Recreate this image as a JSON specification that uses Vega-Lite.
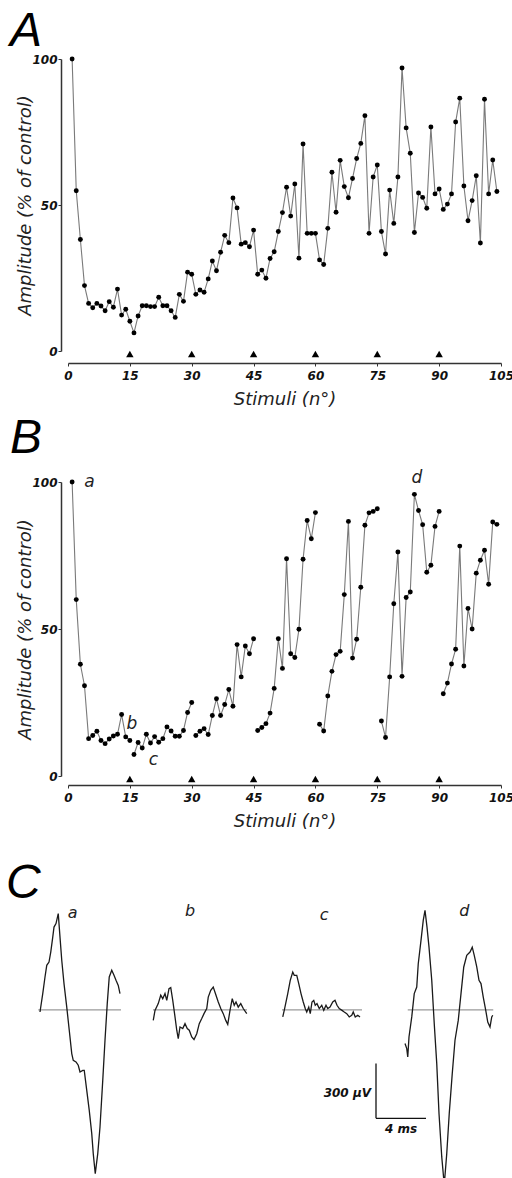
{
  "$schema": "https://vega.github.io/schema/vega-lite/v6.json",
  "background": "white",
  "padding": {"left": 6, "top": 8, "right": 5, "bottom": 0},
  "spacing": 131,
  "bounds": "flush",
  "config": {
    "view": {"stroke": null},
    "font": "DejaVu Sans",
    "axis": {"grid": false, "labelFlush": false}
  },
  "datasets": {
    "A": [
      {"s":1,"amp":100},{"s":2,"amp":54.9},{"s":3,"amp":38.2},{"s":4,"amp":22.4},{"s":5,"amp":16.3},{"s":6,"amp":14.8},{"s":7,"amp":16.3},{"s":8,"amp":15.4},{"s":9,"amp":13.8},{"s":10,"amp":16.9},{"s":11,"amp":15.0},{"s":12,"amp":21.2},{"s":13,"amp":12.3},{"s":14,"amp":14.3},{"s":15,"amp":10.2},
      {"s":16,"amp":6.2},{"s":17,"amp":12.0},{"s":18,"amp":15.5},{"s":19,"amp":15.5},{"s":20,"amp":15.2},{"s":21,"amp":15.2},{"s":22,"amp":18.4},{"s":23,"amp":15.5},{"s":24,"amp":15.5},{"s":25,"amp":13.8},{"s":26,"amp":11.5},{"s":27,"amp":19.4},{"s":28,"amp":17.0},{"s":29,"amp":27.0},{"s":30,"amp":26.3},
      {"s":31,"amp":19.4},{"s":32,"amp":20.9},{"s":33,"amp":20.1},{"s":34,"amp":24.7},{"s":35,"amp":30.8},{"s":36,"amp":27.5},{"s":37,"amp":33.8},{"s":38,"amp":39.6},{"s":39,"amp":37.1},{"s":40,"amp":52.4},{"s":41,"amp":49.0},{"s":42,"amp":36.6},{"s":43,"amp":37.1},{"s":44,"amp":35.7},{"s":45,"amp":41.4},
      {"s":46,"amp":26.3},{"s":47,"amp":27.7},{"s":48,"amp":24.9},{"s":49,"amp":31.7},{"s":50,"amp":34.0},{"s":51,"amp":40.9},{"s":52,"amp":47.4},{"s":53,"amp":56.1},{"s":54,"amp":46.2},{"s":55,"amp":57.2},{"s":56,"amp":31.8},{"s":57,"amp":70.9},{"s":58,"amp":40.3},{"s":59,"amp":40.3},{"s":60,"amp":40.3},
      {"s":61,"amp":31.2},{"s":62,"amp":29.6},{"s":63,"amp":42.0},{"s":64,"amp":61.2},{"s":65,"amp":47.5},{"s":66,"amp":65.3},{"s":67,"amp":56.3},{"s":68,"amp":52.5},{"s":69,"amp":59.1},{"s":70,"amp":65.9},{"s":71,"amp":71.1},{"s":72,"amp":80.6},{"s":73,"amp":40.3},{"s":74,"amp":59.6},{"s":75,"amp":63.7},
      {"s":76,"amp":40.9},{"s":77,"amp":33.2},{"s":78,"amp":55.1},{"s":79,"amp":43.7},{"s":80,"amp":59.6},{"s":81,"amp":96.9},{"s":82,"amp":76.4},{"s":83,"amp":67.7},{"s":84,"amp":40.6},{"s":85,"amp":54.1},{"s":86,"amp":52.6},{"s":87,"amp":48.9},{"s":88,"amp":76.7},{"s":89,"amp":53.8},{"s":90,"amp":55.5},
      {"s":91,"amp":48.5},{"s":92,"amp":50.3},{"s":93,"amp":53.8},{"s":94,"amp":78.4},{"s":95,"amp":86.6},{"s":96,"amp":56.5},{"s":97,"amp":44.6},{"s":98,"amp":51.5},{"s":99,"amp":60.0},{"s":100,"amp":37.0},{"s":101,"amp":86.2},{"s":102,"amp":53.8},{"s":103,"amp":65.4},{"s":104,"amp":54.6}
    ],
    "B": [
      {"s":1,"amp":100,"block":1},{"s":2,"amp":60.0,"block":1},{"s":3,"amp":38.0,"block":1},{"s":4,"amp":30.7,"block":1},{"s":5,"amp":12.7,"block":1},{"s":6,"amp":13.8,"block":1},{"s":7,"amp":15.2,"block":1},{"s":8,"amp":12.1,"block":1},{"s":9,"amp":11.0,"block":1},{"s":10,"amp":12.6,"block":1},{"s":11,"amp":13.6,"block":1},{"s":12,"amp":14.2,"block":1},{"s":13,"amp":20.9,"block":1},{"s":14,"amp":13.3,"block":1},{"s":15,"amp":12.1,"block":1},
      {"s":16,"amp":7.3,"block":2},{"s":17,"amp":11.4,"block":2},{"s":18,"amp":9.5,"block":2},{"s":19,"amp":14.2,"block":2},{"s":20,"amp":11.2,"block":2},{"s":21,"amp":13.4,"block":2},{"s":22,"amp":11.5,"block":2},{"s":23,"amp":12.7,"block":2},{"s":24,"amp":16.7,"block":2},{"s":25,"amp":15.3,"block":2},{"s":26,"amp":13.5,"block":2},{"s":27,"amp":13.5,"block":2},{"s":28,"amp":15.5,"block":2},{"s":29,"amp":21.6,"block":2},{"s":30,"amp":25.0,"block":2},
      {"s":31,"amp":13.8,"block":3},{"s":32,"amp":15.2,"block":3},{"s":33,"amp":16.1,"block":3},{"s":34,"amp":14.1,"block":3},{"s":35,"amp":20.6,"block":3},{"s":36,"amp":26.3,"block":3},{"s":37,"amp":20.6,"block":3},{"s":38,"amp":24.3,"block":3},{"s":39,"amp":29.4,"block":3},{"s":40,"amp":23.7,"block":3},{"s":41,"amp":44.7,"block":3},{"s":42,"amp":33.7,"block":3},{"s":43,"amp":44.2,"block":3},{"s":44,"amp":41.6,"block":3},{"s":45,"amp":46.7,"block":3},
      {"s":46,"amp":15.5,"block":4},{"s":47,"amp":16.5,"block":4},{"s":48,"amp":17.8,"block":4},{"s":49,"amp":21.4,"block":4},{"s":50,"amp":29.8,"block":4},{"s":51,"amp":46.7,"block":4},{"s":52,"amp":36.6,"block":4},{"s":53,"amp":73.9,"block":4},{"s":54,"amp":41.6,"block":4},{"s":55,"amp":40.3,"block":4},{"s":56,"amp":49.9,"block":4},{"s":57,"amp":73.7,"block":4},{"s":58,"amp":86.9,"block":4},{"s":59,"amp":80.7,"block":4},{"s":60,"amp":89.6,"block":4},
      {"s":61,"amp":17.6,"block":5},{"s":62,"amp":15.3,"block":5},{"s":63,"amp":27.2,"block":5},{"s":64,"amp":35.6,"block":5},{"s":65,"amp":41.3,"block":5},{"s":66,"amp":42.4,"block":5},{"s":67,"amp":61.7,"block":5},{"s":68,"amp":86.6,"block":5},{"s":69,"amp":40.1,"block":5},{"s":70,"amp":46.5,"block":5},{"s":71,"amp":64.2,"block":5},{"s":72,"amp":85.3,"block":5},{"s":73,"amp":89.5,"block":5},{"s":74,"amp":90.0,"block":5},{"s":75,"amp":90.9,"block":5},
      {"s":76,"amp":18.7,"block":6},{"s":77,"amp":13.1,"block":6},{"s":78,"amp":33.7,"block":6},{"s":79,"amp":58.6,"block":6},{"s":80,"amp":76.2,"block":6},{"s":81,"amp":33.9,"block":6},{"s":82,"amp":60.7,"block":6},{"s":83,"amp":62.6,"block":6},{"s":84,"amp":95.8,"block":6},{"s":85,"amp":90.3,"block":6},{"s":86,"amp":85.5,"block":6},{"s":87,"amp":69.3,"block":6},{"s":88,"amp":71.7,"block":6},{"s":89,"amp":84.9,"block":6},{"s":90,"amp":90.0,"block":6},
      {"s":91,"amp":28.0,"block":7},{"s":92,"amp":31.6,"block":7},{"s":93,"amp":38.1,"block":7},{"s":94,"amp":43.1,"block":7},{"s":95,"amp":78.2,"block":7},{"s":96,"amp":37.4,"block":7},{"s":97,"amp":57.0,"block":7},{"s":98,"amp":50.0,"block":7},{"s":99,"amp":69.0,"block":7},{"s":100,"amp":73.4,"block":7},{"s":101,"amp":76.8,"block":7},{"s":102,"amp":65.2,"block":7},{"s":103,"amp":86.4,"block":7},{"s":104,"amp":85.6,"block":7}
    ],
    "tri": [{"s":15},{"s":30},{"s":45},{"s":60},{"s":75},{"s":90}],
    "Blabels": [
      {"s":5.2,"amp":100,"label":"a"},{"s":15.5,"amp":17.8,"label":"b"},{"s":20.7,"amp":5.6,"label":"c"},{"s":84.6,"amp":101.5,"label":"d"}
    ],
    "traces": [
      {"trace":"a","t":0.32,"v":-12},{"trace":"a","t":0.54,"v":89},{"trace":"a","t":0.72,"v":180},{"trace":"a","t":0.86,"v":244},{"trace":"a","t":1.04,"v":262},{"trace":"a","t":1.18,"v":317},{"trace":"a","t":1.34,"v":399},{"trace":"a","t":1.44,"v":454},{"trace":"a","t":1.6,"v":473},{"trace":"a","t":1.78,"v":528},{"trace":"a","t":1.92,"v":399},{"trace":"a","t":2.06,"v":272},{"trace":"a","t":2.24,"v":144},{"trace":"a","t":2.46,"v":15},{"trace":"a","t":2.66,"v":-112},{"trace":"a","t":2.86,"v":-240},{"trace":"a","t":2.98,"v":-277},{"trace":"a","t":3.2,"v":-286},{"trace":"a","t":3.38,"v":-304},{"trace":"a","t":3.52,"v":-341},{"trace":"a","t":3.74,"v":-332},{"trace":"a","t":3.86,"v":-332},{"trace":"a","t":4.06,"v":-442},{"trace":"a","t":4.26,"v":-552},{"trace":"a","t":4.46,"v":-679},{"trace":"a","t":4.58,"v":-789},{"trace":"a","t":4.74,"v":-899},{"trace":"a","t":4.94,"v":-789},{"trace":"a","t":5.12,"v":-643},{"trace":"a","t":5.34,"v":-387},{"trace":"a","t":5.52,"v":-167},{"trace":"a","t":5.7,"v":34},{"trace":"a","t":5.86,"v":180},{"trace":"a","t":6.06,"v":217},{"trace":"a","t":6.24,"v":189},{"trace":"a","t":6.4,"v":162},{"trace":"a","t":6.58,"v":134},{"trace":"a","t":6.72,"v":89},
      {"trace":"b","t":9.38,"v":-58},{"trace":"b","t":9.52,"v":-3},{"trace":"b","t":9.78,"v":34},{"trace":"b","t":9.98,"v":80},{"trace":"b","t":10.14,"v":61},{"trace":"b","t":10.32,"v":89},{"trace":"b","t":10.46,"v":52},{"trace":"b","t":10.64,"v":116},{"trace":"b","t":10.78,"v":122},{"trace":"b","t":10.94,"v":52},{"trace":"b","t":11.12,"v":-39},{"trace":"b","t":11.26,"v":-112},{"trace":"b","t":11.38,"v":-158},{"trace":"b","t":11.52,"v":-94},{"trace":"b","t":11.74,"v":-103},{"trace":"b","t":11.92,"v":-76},{"trace":"b","t":12.1,"v":-103},{"trace":"b","t":12.26,"v":-112},{"trace":"b","t":12.46,"v":-149},{"trace":"b","t":12.64,"v":-163},{"trace":"b","t":12.86,"v":-131},{"trace":"b","t":13.06,"v":-76},{"trace":"b","t":13.26,"v":-48},{"trace":"b","t":13.44,"v":-21},{"trace":"b","t":13.66,"v":7},{"trace":"b","t":13.78,"v":70},{"trace":"b","t":13.98,"v":107},{"trace":"b","t":14.18,"v":125},{"trace":"b","t":14.4,"v":80},{"trace":"b","t":14.58,"v":43},{"trace":"b","t":14.78,"v":7},{"trace":"b","t":14.98,"v":-21},{"trace":"b","t":15.18,"v":-58},{"trace":"b","t":15.34,"v":-80},{"trace":"b","t":15.52,"v":-3},{"trace":"b","t":15.7,"v":61},{"trace":"b","t":15.86,"v":25},{"trace":"b","t":16.0,"v":43},{"trace":"b","t":16.18,"v":15},{"trace":"b","t":16.38,"v":34},{"trace":"b","t":16.58,"v":7},{"trace":"b","t":16.86,"v":-21},
      {"trace":"c","t":19.74,"v":-39},{"trace":"c","t":19.86,"v":-3},{"trace":"c","t":20.14,"v":89},{"trace":"c","t":20.34,"v":162},{"trace":"c","t":20.54,"v":207},{"trace":"c","t":20.66,"v":189},{"trace":"c","t":20.86,"v":189},{"trace":"c","t":21.02,"v":144},{"trace":"c","t":21.2,"v":89},{"trace":"c","t":21.38,"v":43},{"trace":"c","t":21.54,"v":7},{"trace":"c","t":21.66,"v":-12},{"trace":"c","t":21.82,"v":15},{"trace":"c","t":21.94,"v":-21},{"trace":"c","t":22.08,"v":43},{"trace":"c","t":22.22,"v":52},{"trace":"c","t":22.34,"v":25},{"trace":"c","t":22.48,"v":34},{"trace":"c","t":22.66,"v":7},{"trace":"c","t":22.86,"v":25},{"trace":"c","t":23.02,"v":-3},{"trace":"c","t":23.2,"v":25},{"trace":"c","t":23.34,"v":7},{"trace":"c","t":23.52,"v":15},{"trace":"c","t":23.74,"v":43},{"trace":"c","t":23.92,"v":52},{"trace":"c","t":24.08,"v":25},{"trace":"c","t":24.26,"v":7},{"trace":"c","t":24.48,"v":-3},{"trace":"c","t":24.66,"v":-12},{"trace":"c","t":24.86,"v":-21},{"trace":"c","t":25.06,"v":-39},{"trace":"c","t":25.26,"v":-30},{"trace":"c","t":25.38,"v":-12},{"trace":"c","t":25.54,"v":-39},{"trace":"c","t":25.74,"v":-30},{"trace":"c","t":25.92,"v":-39},
      {"trace":"d","t":29.52,"v":-185},{"trace":"d","t":29.66,"v":-213},{"trace":"d","t":29.74,"v":-259},{"trace":"d","t":29.84,"v":-149},{"trace":"d","t":30.06,"v":-39},{"trace":"d","t":30.26,"v":89},{"trace":"d","t":30.46,"v":125},{"trace":"d","t":30.58,"v":253},{"trace":"d","t":30.8,"v":381},{"trace":"d","t":30.98,"v":491},{"trace":"d","t":31.12,"v":546},{"trace":"d","t":31.28,"v":454},{"trace":"d","t":31.44,"v":344},{"trace":"d","t":31.66,"v":162},{"trace":"d","t":31.86,"v":-76},{"trace":"d","t":32.06,"v":-295},{"trace":"d","t":32.24,"v":-569},{"trace":"d","t":32.46,"v":-807},{"trace":"d","t":32.66,"v":-960},{"trace":"d","t":32.86,"v":-789},{"trace":"d","t":33.06,"v":-569},{"trace":"d","t":33.3,"v":-350},{"trace":"d","t":33.52,"v":-167},{"trace":"d","t":33.78,"v":-58},{"trace":"d","t":34.0,"v":89},{"trace":"d","t":34.22,"v":235},{"trace":"d","t":34.46,"v":299},{"trace":"d","t":34.72,"v":317},{"trace":"d","t":34.9,"v":344},{"trace":"d","t":35.06,"v":299},{"trace":"d","t":35.26,"v":235},{"trace":"d","t":35.44,"v":162},{"trace":"d","t":35.6,"v":144},{"trace":"d","t":35.78,"v":70},{"trace":"d","t":35.98,"v":-3},{"trace":"d","t":36.14,"v":-67},{"trace":"d","t":36.32,"v":-94},{"trace":"d","t":36.46,"v":-39},{"trace":"d","t":36.54,"v":-30}
    ],
    "baselines": [
      {"trace":"a","t0":0.18,"t1":6.8},{"trace":"b","t0":9.36,"t1":16.88},{"trace":"c","t0":19.68,"t1":26.08},{"trace":"d","t0":29.74,"t1":36.58}
    ],
    "Clabels": [
      {"t":2.94,"v":531,"label":"a"},{"t":12.32,"v":542,"label":"b"},{"t":23.06,"v":518,"label":"c"},{"t":34.26,"v":542,"label":"d"}
    ],
    "bar": [
      {"t0":27.2,"t1":27.2,"v0":-295,"v1":-595},{"t0":27.2,"t1":31.2,"v0":-595,"v1":-595}
    ],
    "barV": [{"t":26.8,"v":-456,"label":"300 µV"}],
    "barH": [{"t":29.2,"v":-652,"label":"4 ms"}]
  },
  "vconcat": [
    {
      "title": {"text": "A", "anchor": "start", "frame": "group", "dx": -58, "fontSize": 48, "font": "Liberation Sans", "fontStyle": "italic", "fontWeight": "normal", "color": "#000", "offset": -3},
      "width": 433,
      "height": 292,
      "layer": [
        {
          "data": {"name": "A"},
          "mark": {"type": "line", "color": "#7a7a7a", "strokeWidth": 1.1},
          "encoding": {
            "x": {"field": "s", "type": "quantitative", "scale": {"domain": [0, 105], "nice": false, "zero": false},
              "axis": {"title": "Stimuli (n°)", "values": [0, 15, 30, 45, 60, 75, 90, 105], "offset": 12, "tickSize": 3, "tickColor": "#333", "domainColor": "#333", "domainWidth": 1.5, "labelFont": "DejaVu Sans", "labelFontSize": 12, "labelFontStyle": "italic", "labelFontWeight": "bold", "labelColor": "#111", "labelPadding": 4, "titleFont": "DejaVu Sans", "titleFontSize": 18, "titleFontStyle": "italic", "titleFontWeight": "normal", "titleColor": "#222", "titlePadding": 9}},
            "y": {"field": "amp", "type": "quantitative", "scale": {"domain": [0, 100], "nice": false},
              "axis": {"title": "Amplitude (% of control)", "values": [0, 50, 100], "offset": 7, "tickSize": 3, "tickColor": "#333", "domainColor": "#333", "domainWidth": 1.5, "labelFont": "DejaVu Sans", "labelFontSize": 12, "labelFontStyle": "italic", "labelFontWeight": "bold", "labelColor": "#111", "labelPadding": 1, "titleFont": "DejaVu Sans", "titleFontSize": 18, "titleFontStyle": "italic", "titleFontWeight": "normal", "titleColor": "#222", "titlePadding": -3}}
          }
        },
        {
          "data": {"name": "A"},
          "mark": {"type": "point", "filled": true, "color": "#000", "size": 24, "opacity": 1},
          "encoding": {"x": {"field": "s", "type": "quantitative"}, "y": {"field": "amp", "type": "quantitative"}}
        },
        {
          "data": {"name": "tri"},
          "mark": {"type": "point", "shape": "triangle-up", "filled": true, "color": "#000", "size": 55, "opacity": 1},
          "encoding": {"x": {"field": "s", "type": "quantitative"}, "y": {"datum": -1, "type": "quantitative"}}
        }
      ]
    },
    {
      "title": {"text": "B", "anchor": "start", "frame": "group", "dx": -58, "fontSize": 48, "font": "Liberation Sans", "fontStyle": "italic", "fontWeight": "normal", "color": "#000", "offset": 6},
      "width": 433,
      "height": 294,
      "layer": [
        {
          "data": {"name": "B"},
          "mark": {"type": "line", "color": "#7a7a7a", "strokeWidth": 1.1},
          "encoding": {
            "detail": {"field": "block", "type": "nominal"},
            "x": {"field": "s", "type": "quantitative", "scale": {"domain": [0, 105], "nice": false, "zero": false},
              "axis": {"title": "Stimuli (n°)", "values": [0, 15, 30, 45, 60, 75, 90, 105], "offset": 9, "tickSize": 3, "tickColor": "#333", "domainColor": "#333", "domainWidth": 1.5, "labelFont": "DejaVu Sans", "labelFontSize": 12, "labelFontStyle": "italic", "labelFontWeight": "bold", "labelColor": "#111", "labelPadding": 4, "titleFont": "DejaVu Sans", "titleFontSize": 18, "titleFontStyle": "italic", "titleFontWeight": "normal", "titleColor": "#222", "titlePadding": 9}},
            "y": {"field": "amp", "type": "quantitative", "scale": {"domain": [0, 100], "nice": false},
              "axis": {"title": "Amplitude (% of control)", "values": [0, 50, 100], "offset": 7, "tickSize": 3, "tickColor": "#333", "domainColor": "#333", "domainWidth": 1.5, "labelFont": "DejaVu Sans", "labelFontSize": 12, "labelFontStyle": "italic", "labelFontWeight": "bold", "labelColor": "#111", "labelPadding": 1, "titleFont": "DejaVu Sans", "titleFontSize": 18, "titleFontStyle": "italic", "titleFontWeight": "normal", "titleColor": "#222", "titlePadding": -3}}
          }
        },
        {
          "data": {"name": "B"},
          "mark": {"type": "point", "filled": true, "color": "#000", "size": 24, "opacity": 1},
          "encoding": {"x": {"field": "s", "type": "quantitative"}, "y": {"field": "amp", "type": "quantitative"}}
        },
        {
          "data": {"name": "tri"},
          "mark": {"type": "point", "shape": "triangle-up", "filled": true, "color": "#000", "size": 55, "opacity": 1},
          "encoding": {"x": {"field": "s", "type": "quantitative"}, "y": {"datum": -1, "type": "quantitative"}}
        },
        {
          "data": {"name": "Blabels"},
          "mark": {"type": "text", "font": "DejaVu Sans", "fontSize": 17, "fontStyle": "italic", "color": "#222", "align": "center", "baseline": "middle"},
          "encoding": {"x": {"field": "s", "type": "quantitative"}, "y": {"field": "amp", "type": "quantitative"}, "text": {"field": "label"}}
        }
      ]
    },
    {
      "title": {"text": "C", "anchor": "start", "frame": "group", "dx": -62, "fontSize": 48, "font": "Liberation Sans", "fontStyle": "italic", "fontWeight": "normal", "color": "#000", "offset": -5},
      "width": 433,
      "height": 276,
      "layer": [
        {
          "data": {"name": "baselines"},
          "mark": {"type": "rule", "color": "#9a9a9a", "strokeWidth": 1.2},
          "encoding": {
            "x": {"field": "t0", "type": "quantitative", "scale": {"domain": [2.56, 37.2], "nice": false, "zero": false}, "axis": null},
            "x2": {"field": "t1"},
            "y": {"datum": 0, "type": "quantitative", "scale": {"domain": [-950, 564], "nice": false, "zero": false}, "axis": null}
          }
        },
        {
          "data": {"name": "traces"},
          "mark": {"type": "line", "color": "#1a1a1a", "strokeWidth": 1.3},
          "encoding": {
            "detail": {"field": "trace", "type": "nominal"},
            "x": {"field": "t", "type": "quantitative"},
            "y": {"field": "v", "type": "quantitative"}
          }
        },
        {
          "data": {"name": "bar"},
          "mark": {"type": "rule", "color": "#111", "strokeWidth": 1.3},
          "encoding": {
            "x": {"field": "t0", "type": "quantitative"},
            "x2": {"field": "t1"},
            "y": {"field": "v0", "type": "quantitative"},
            "y2": {"field": "v1"}
          }
        },
        {
          "data": {"name": "Clabels"},
          "mark": {"type": "text", "font": "DejaVu Sans", "fontSize": 16, "fontStyle": "italic", "color": "#222", "align": "center", "baseline": "middle"},
          "encoding": {"x": {"field": "t", "type": "quantitative"}, "y": {"field": "v", "type": "quantitative"}, "text": {"field": "label"}}
        },
        {
          "data": {"name": "barV"},
          "mark": {"type": "text", "font": "DejaVu Sans", "fontSize": 12, "fontStyle": "italic", "fontWeight": "bold", "color": "#111", "align": "right", "baseline": "middle"},
          "encoding": {"x": {"field": "t", "type": "quantitative"}, "y": {"field": "v", "type": "quantitative"}, "text": {"field": "label"}}
        },
        {
          "data": {"name": "barH"},
          "mark": {"type": "text", "font": "DejaVu Sans", "fontSize": 12, "fontStyle": "italic", "fontWeight": "bold", "color": "#111", "align": "center", "baseline": "middle"},
          "encoding": {"x": {"field": "t", "type": "quantitative"}, "y": {"field": "v", "type": "quantitative"}, "text": {"field": "label"}}
        }
      ]
    }
  ]
}
